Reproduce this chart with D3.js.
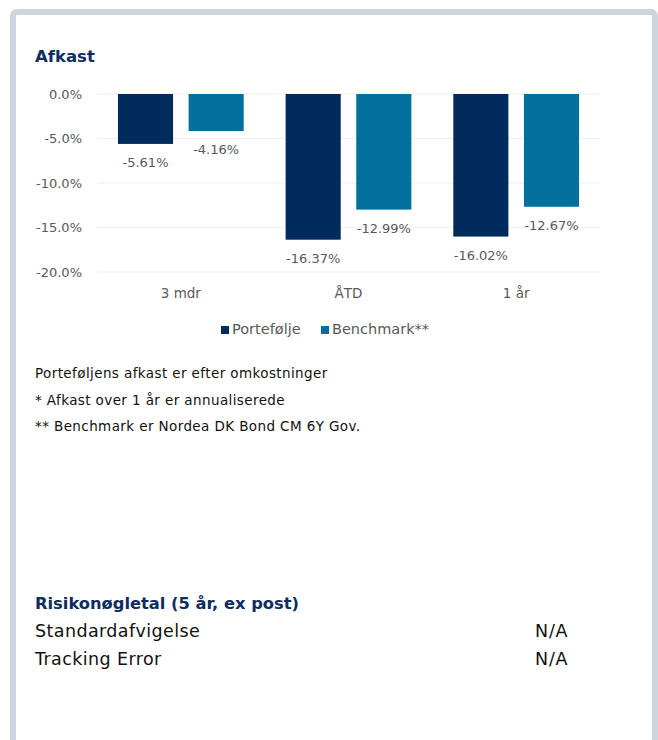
<!DOCTYPE html>
<html>
<head>
<meta charset="utf-8">
<script src="https://d3js.org/d3.v7.min.js"></script>
<style>
  body { margin: 0; background: #fff; }
  svg { display: block; }
</style>
</head>
<body>
<div id="chart"></div>
<script>
// chart data
const categories = ["3 mdr", "ÅTD", "1 år"];
const seriesNames = ["Portefølje", "Benchmark**"];
const portfolio = [-5.61, -16.37, -16.02];
const benchmark = [-4.16, -12.99, -12.67];
const yTicks = [0, -5, -10, -15, -20];

const footnotes = [
  "Porteføljens afkast er efter omkostninger",
  "* Afkast over 1 år er annualiserede",
  "** Benchmark er Nordea DK Bond CM 6Y Gov."
];
const riskLabels = ["Standardafvigelse", "Tracking Error"];
const riskValues = ["N/A", "N/A"];

const colors = ["#002b5c", "#036f9d"];
const navy = "#0c2d5e";
const grey = "#595959";
const font = "'DejaVu Sans', sans-serif";

const W = 658, H = 740;
const svg = d3.select("#chart").append("svg")
  .attr("width", W)
  .attr("height", H)
  .style("font-family", font);

// panel frame
svg.append("rect")
  .attr("x", 13).attr("y", 12)
  .attr("width", 642).attr("height", 760)
  .attr("rx", 4)
  .attr("fill", "#fff")
  .attr("stroke", "#cdd6df")
  .attr("stroke-width", 6);

svg.append("text")
  .attr("x", 35).attr("y", 62)
  .attr("fill", navy)
  .attr("font-weight", "bold")
  .attr("font-size", 16.5)
  .text("Afkast");

// scales
const y = d3.scaleLinear().domain([-20, 0]).range([272, 94]);
const x0 = d3.scaleBand().domain(categories).range([97, 600])
  .paddingInner(0.25).paddingOuter(0.125);
const x1 = d3.scaleBand().domain(seriesNames).range([0, x0.bandwidth()])
  .paddingInner(0.22);

// gridlines
svg.append("g")
  .selectAll("line")
  .data(yTicks)
  .enter()
  .append("line")
  .attr("x1", 97).attr("x2", 600)
  .attr("y1", d => y(d)).attr("y2", d => y(d))
  .attr("stroke", "#efefef")
  .attr("stroke-width", 1);

// y axis labels
const yAxis = svg.append("g")
  .attr("transform", "translate(88,0)")
  .call(d3.axisLeft(y).tickValues(yTicks).tickSize(0).tickPadding(6)
    .tickFormat(d => d3.format(".1f")(d).replace("−", "-") + "%"));
yAxis.select(".domain").remove();
yAxis.selectAll("text")
  .attr("fill", grey)
  .attr("font-size", 13)
  .attr("font-family", font);

// x axis labels
const xAxis = svg.append("g")
  .attr("transform", "translate(0,282)")
  .call(d3.axisBottom(x0).tickSize(0).tickPadding(6));
xAxis.select(".domain").remove();
xAxis.selectAll("text")
  .attr("fill", grey)
  .attr("font-size", 13.5)
  .attr("font-family", font);

const rows = categories.map((c, i) => ({
  cat: c,
  values: [
    { key: seriesNames[0], v: portfolio[i] },
    { key: seriesNames[1], v: benchmark[i] }
  ]
}));

const groups = svg.append("g")
  .selectAll("g")
  .data(rows)
  .enter()
  .append("g")
  .attr("transform", d => `translate(${x0(d.cat)},0)`);

groups.selectAll("rect")
  .data(d => d.values)
  .enter()
  .append("rect")
  .attr("x", d => x1(d.key))
  .attr("y", y(0))
  .attr("width", x1.bandwidth())
  .attr("height", d => y(d.v) - y(0))
  .attr("fill", (d, i) => colors[i]);

groups.selectAll("text.lbl")
  .data(d => d.values)
  .enter()
  .append("text")
  .attr("class", "lbl")
  .attr("x", d => x1(d.key) + x1.bandwidth() / 2)
  .attr("y", d => y(d.v) + 23)
  .attr("text-anchor", "middle")
  .attr("fill", grey)
  .attr("font-size", 13)
  .text(d => d3.format(".2f")(d.v).replace("−", "-") + "%");

// legend
const legend = svg.append("g").attr("transform", "translate(221,334)");
const legendX = [0, 100];
seriesNames.forEach((s, i) => {
  legend.append("rect")
    .attr("x", legendX[i]).attr("y", -8)
    .attr("width", 8).attr("height", 8)
    .attr("fill", colors[i]);
  legend.append("text")
    .attr("x", legendX[i] + 11).attr("y", 0)
    .attr("fill", grey)
    .attr("font-size", 14.5)
    .text(s);
});

// footnotes
svg.append("g")
  .selectAll("text")
  .data(footnotes)
  .enter()
  .append("text")
  .attr("x", 35)
  .attr("y", (d, i) => 378 + i * 26.5)
  .attr("fill", "#111")
  .attr("font-size", 13.5)
  .attr("letter-spacing", 0.4)
  .text(d => d);

// risk table
svg.append("text")
  .attr("x", 35).attr("y", 609)
  .attr("fill", navy)
  .attr("font-weight", "bold")
  .attr("font-size", 16.3)
  .text("Risikonøgletal (5 år, ex post)");

riskLabels.forEach((r, i) => {
  svg.append("text")
    .attr("x", 35).attr("y", 637 + i * 28)
    .attr("fill", "#111")
    .attr("font-size", 17.5)
    .attr("letter-spacing", 0.4)
    .text(r);
  svg.append("text")
    .attr("x", 535).attr("y", 637 + i * 28)
    .attr("fill", "#111")
    .attr("font-size", 17.5)
    .attr("letter-spacing", 0.8)
    .text(riskValues[i]);
});
</script>
</body>
</html>
